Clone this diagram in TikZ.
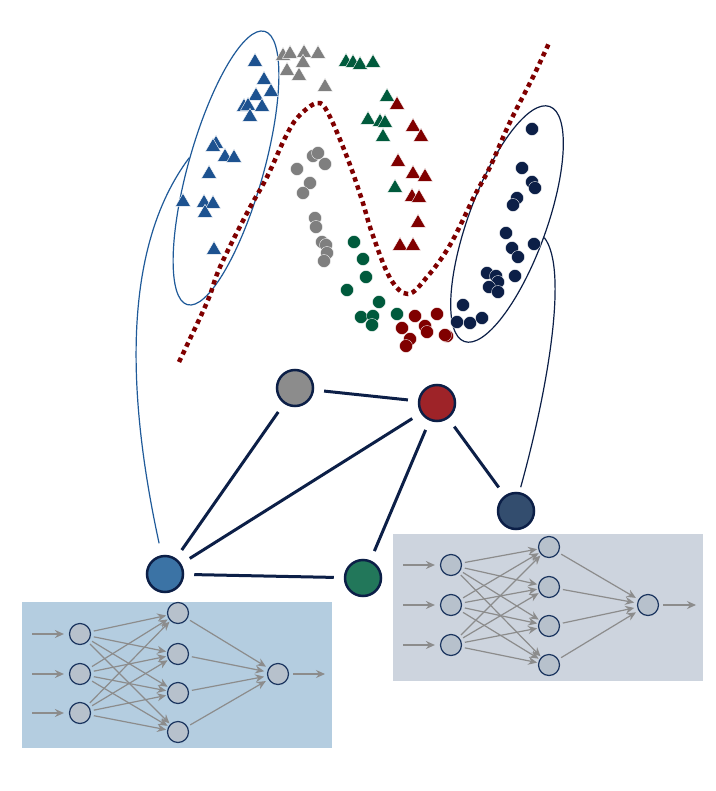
\documentclass[tikz,border=0pt]{standalone}
\usetikzlibrary{shapes.geometric,arrows.meta}
\definecolor{tblue}{HTML}{1D5290}
\definecolor{tgray}{HTML}{7F7F7F}
\definecolor{tgreen}{HTML}{005A3C}
\definecolor{tred}{HTML}{800000}
\definecolor{cnavy}{HTML}{0C1F47}
\definecolor{eblue}{HTML}{1F5A99}
\definecolor{gngray}{HTML}{8C8C8C}
\definecolor{gnred}{HTML}{9E2328}
\definecolor{gnnavy}{HTML}{334D6E}
\definecolor{gnblue}{HTML}{3B73A5}
\definecolor{gngreen}{HTML}{22775A}
\definecolor{boxL}{HTML}{B4CDE0}
\definecolor{boxR}{HTML}{CDD4DE}
\definecolor{neuron}{HTML}{B7C1CC}
\definecolor{neuronB}{HTML}{1B355F}
\definecolor{arr}{HTML}{8C8C8C}
\tikzset{
  tri/.style={regular polygon, regular polygon sides=3, minimum size=17.5pt, inner sep=0pt, draw=white, line width=0.4pt},
  dot/.style={circle, minimum size=13pt, inner sep=0pt, draw=white, line width=0.3pt},
  gnode/.style={circle, minimum size=36pt, inner sep=0pt, draw=cnavy, line width=2.5pt},
  gedge/.style={draw=cnavy, line width=3pt, shorten >=10pt, shorten <=10pt},
  neur/.style={circle, minimum size=21pt, inner sep=0pt, fill=neuron, draw=neuronB, line width=1.2pt},
  nnarr/.style={draw=arr, line width=1.2pt, -{Stealth[length=9pt,width=8pt,inset=3pt]}},
}
\begin{document}
\begin{tikzpicture}[x=1pt,y=-1pt]
\useasboundingbox (0,0) rectangle (715,791);
\fill[white] (0,0) rectangle (715,791);

% ellipses
\node[ellipse, draw=eblue, line width=1.2pt, minimum width=75pt, minimum height=284pt, inner sep=0pt, rotate=-15.8] (ellL) at (226,168) {};
\node[ellipse, draw=cnavy, line width=1.2pt, minimum width=78pt, minimum height=250pt, inner sep=0pt, rotate=-20] (ellR) at (507,224) {};

% triangles
\foreach \x/\y [count=\i] in {255/62,264/80,271/92,256/96,244/107,248/106,262/107,250/117,216/144,213/147,225/157,234/158,209/174,183/202,204/203,213/204,205/213,214/250}
  \node[tri, fill=tblue] (bt\i) at (\x,\y) {};
\foreach \x/\y [count=\i] in {283/56,290/54,304/53,318/54,287/71,303/63,299/76,325/87}
  \node[tri, fill=tgray] (gt\i) at (\x,\y) {};
\foreach \x/\y [count=\i] in {346/62,353/63,360/65,373/63,387/97,368/120,380/122,385/123,383/137,395/188}
  \node[tri, fill=tgreen] (et\i) at (\x,\y) {};
\foreach \x/\y [count=\i] in {397/105,413/127,421/137,398/162,413/174,425/177,412/197,419/198,418/223,400/246,413/246}
  \node[tri, fill=tred] (rt\i) at (\x,\y) {};

% dots
\foreach \x/\y [count=\i] in {313/156,318/153,297/169,325/164,310/183,303/193,315/218,316/227,322/242,326/245,327/253,324/261}
  \node[dot, fill=tgray] (gd\i) at (\x,\y) {};
\foreach \x/\y [count=\i] in {354/242,363/259,366/277,347/290,379/302,361/317,373/316,372/325,397/314}
  \node[dot, fill=tgreen] (ed\i) at (\x,\y) {};
\foreach \x/\y [count=\i] in {415/316,437/314,402/328,425/326,427/332,410/339,406/346,447/336,445/335}
  \node[dot, fill=tred] (rd\i) at (\x,\y) {};
\foreach \x/\y [count=\i] in {532/129,522/168,532/182,535/188,517/198,513/205,506/233,534/244,512/248,518/257,515/276,487/273,496/276,498/282,489/287,498/292,463/305,457/322,470/323,482/318}
  \node[dot, fill=cnavy] (nd\i) at (\x,\y) {};

% decision boundary
\draw[tred, line width=4.5pt, dash pattern=on 4.5pt off 4pt] plot[smooth, tension=0.6] coordinates {(179,362) (188,343) (208,300) (220,267) (247,213) (267,177) (285,138) (298,117) (317,103) (328,113) (347,157) (362,200) (372,233) (390,278) (408,294) (427,277) (450,245) (475,195) (490,167) (510,122) (533,77) (549,43)};

% NN boxes
\fill[boxL] (22,602) rectangle (332,748);
\fill[boxR] (393,534) rectangle (703,681);

% graph nodes
\node[gnode, fill=gngray] (g) at (295,388) {};
\node[gnode, fill=gnred] (r) at (437,403) {};
\node[gnode, fill=gnnavy] (n) at (516,511) {};
\node[gnode, fill=gnblue] (b) at (165,574) {};
\node[gnode, fill=gngreen] (e) at (363,578) {};

\draw[gedge] (g) -- (r);
\draw[gedge] (g) -- (b);
\draw[gedge] (r) -- (b);
\draw[gedge] (r) -- (e);
\draw[gedge] (r) -- (n);
\draw[gedge] (b) -- (e);

% links to clusters
\draw[eblue, line width=1.2pt, shorten <=12pt] (b.100) .. controls (128,400) and (120,250) .. (ellL.west);
\draw[cnavy, line width=1.2pt, shorten <=5pt] (n.80) .. controls (545,400) and (570,270) .. (ellR.east);

% left NN
\foreach \j/\y in {1/634,2/674,3/713} {
  \node[neur] (li\j) at (80,\y) {};
  \coordinate (lin\j) at (32,\y);
  \draw[nnarr, shorten >=5pt] (lin\j) -- (li\j);
}
\foreach \k/\y in {1/613,2/654,3/693,4/732}
  \node[neur] (lh\k) at (178,\y) {};
\node[neur] (lo) at (278,674) {};
\foreach \j in {1,2,3}
  \foreach \k in {1,2,3,4}
    \draw[nnarr, shorten <=3pt, shorten >=1pt] (li\j) -- (lh\k);
\foreach \k in {1,2,3,4}
  \draw[nnarr, shorten <=3pt, shorten >=3pt] (lh\k) -- (lo);
\coordinate (lout) at (325,674);
\draw[nnarr, shorten <=4pt] (lo) -- (lout);

% right NN
\foreach \j/\y in {1/565,2/605,3/645} {
  \node[neur] (ri\j) at (451,\y) {};
  \coordinate (rin\j) at (403,\y);
  \draw[nnarr, shorten >=5pt] (rin\j) -- (ri\j);
}
\foreach \k/\y in {1/547,2/587,3/626,4/665}
  \node[neur] (rh\k) at (549,\y) {};
\node[neur] (ro) at (648,605) {};
\foreach \j in {1,2,3}
  \foreach \k in {1,2,3,4}
    \draw[nnarr, shorten <=3pt, shorten >=1pt] (ri\j) -- (rh\k);
\foreach \k in {1,2,3,4}
  \draw[nnarr, shorten <=3pt, shorten >=3pt] (rh\k) -- (ro);
\coordinate (rout) at (696,605);
\draw[nnarr, shorten <=4pt] (ro) -- (rout);
\end{tikzpicture}
\end{document}
